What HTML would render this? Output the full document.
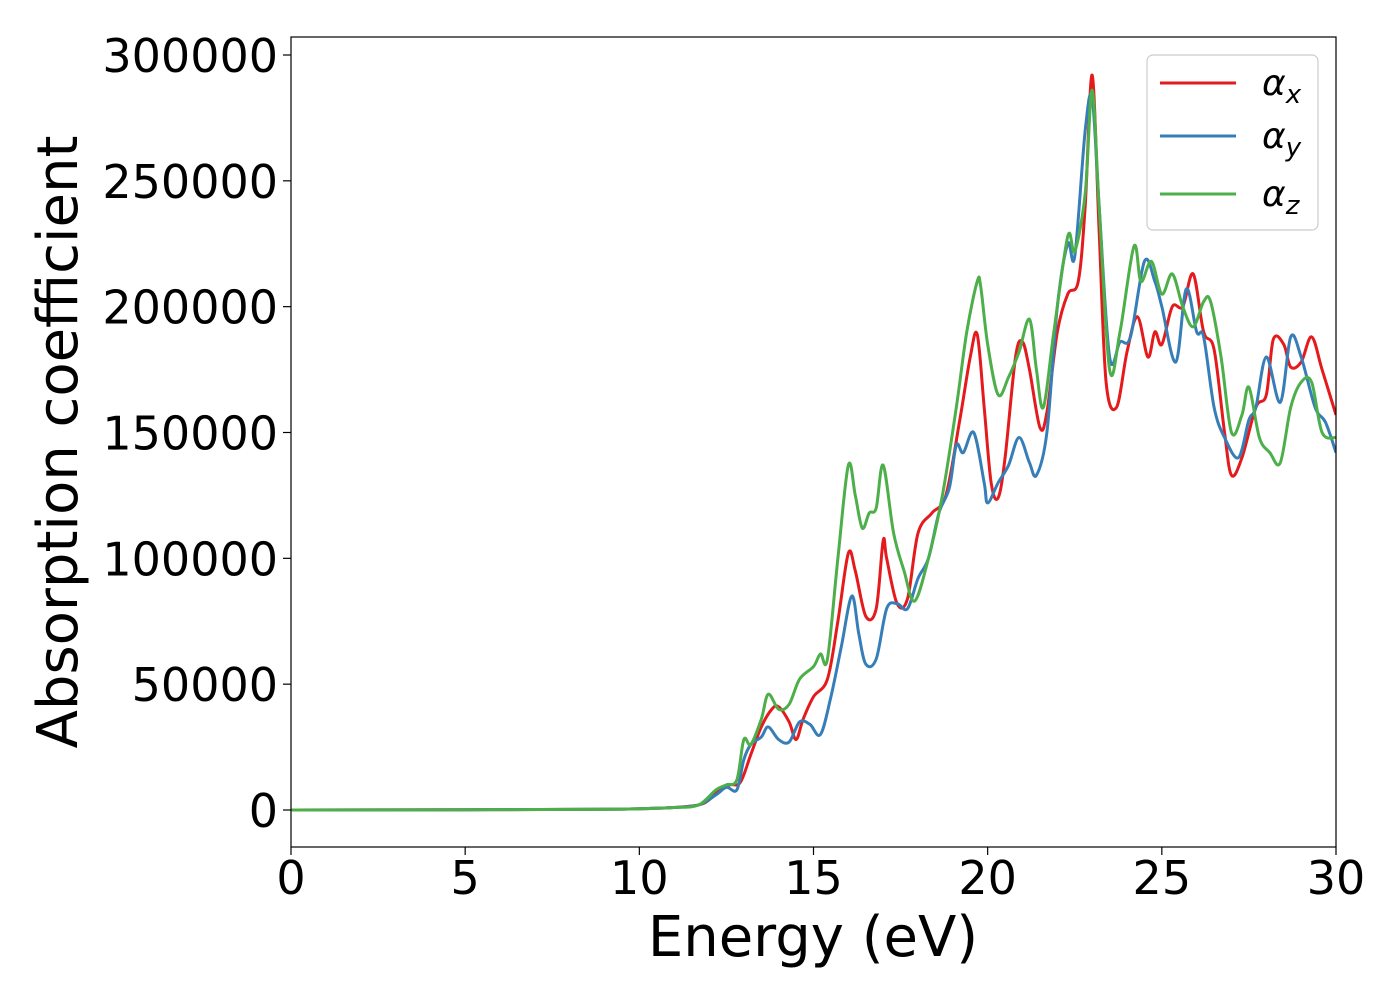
<!DOCTYPE html>
<html><head><meta charset="utf-8"><style>
body{margin:0;background:#fff}
svg{font-family:"DejaVu Sans","Liberation Sans",sans-serif}
</style></head><body>
<svg id="chart" width="1400" height="1000">
<defs><clipPath id="clip"><rect x="291" y="37" width="1045" height="810"/></clipPath></defs>
<rect x="0" y="0" width="1400" height="1000" fill="#fff"/>
<g id="series" clip-path="url(#clip)"></g>
<rect x="291" y="37" width="1045" height="810" fill="none" stroke="#000" stroke-width="1.2"/>
<g id="xticks"></g><g id="yticks"></g>
<text x="813" y="956" font-size="56" text-anchor="middle">Energy (eV)</text>
<text transform="translate(77,442) rotate(-90)" font-size="56" text-anchor="middle">Absorption coefficient</text>
<g>
<rect x="1147" y="55" width="171" height="175" rx="6" fill="#fff" fill-opacity="0.8" stroke="#ccc" stroke-width="1.2"/>
<g id="legend-items"></g>
</g>
</svg>
<script>
const xTicks=[0,5,10,15,20,25,30];
const yTicks=[0,50000,100000,150000,200000,250000,300000];
const seriesNames=["α_x","α_y","α_z"];
const seriesColors=["#e41a1c","#377eb8","#4daf4a"];
const ex=[0,5,9,10,11,11.7,12,12.3,12.6,12.9,13.2,13.5,13.8,14.0,14.3,14.5,14.7,15.0,15.4,15.7,16.0,16.2,16.5,16.8,17.0,17.1,17.4,17.7,18.0,18.4,18.8,19.2,19.5,19.7,19.9,20.1,20.3,20.5,20.8,21.0,21.2,21.5,21.7,22.0,22.3,22.6,22.8,23.0,23.2,23.4,23.7,24.0,24.3,24.6,24.8,25.0,25.3,25.6,25.9,26.2,26.5,26.8,27.0,27.3,27.7,28.0,28.2,28.5,28.7,29.0,29.3,29.6,30];
const vx=[0,0.1,0.3,0.5,1,2,4,8,10,11,22,33,40,41,35,28,36,45,52,75,102,95,77,80,107,100,82,84,110,118,125,155,180,189,160,130,124,140,180,186,175,152,158,190,205,210,240,292,230,170,160,182,196,180,190,185,200,200,213,190,183,150,133,140,160,165,187,185,176,178,188,175,157];
const ey=[0,5,9,10,11,11.7,12.2,12.5,12.8,13.0,13.2,13.5,13.7,14.0,14.3,14.6,14.9,15.2,15.5,15.8,16.1,16.3,16.5,16.8,17.1,17.4,17.7,18.0,18.3,18.6,18.9,19.1,19.3,19.6,19.9,20.0,20.3,20.6,20.9,21.2,21.4,21.7,22.0,22.3,22.5,22.8,23.0,23.2,23.5,23.8,24.1,24.5,24.8,25.0,25.4,25.7,26.0,26.2,26.5,26.8,27.2,27.5,27.7,28.0,28.4,28.7,29.0,29.4,29.7,30];
const vy=[0,0.1,0.3,0.5,1,2,6,9,8,20,26,29,33,28,27,35,34,30,45,65,85,70,58,60,80,82,80,92,100,118,128,145,142,150,130,122,130,137,148,138,133,150,200,225,220,270,283,240,180,186,188,218,210,200,178,207,190,188,160,148,140,155,160,180,162,188,180,160,154,142];
const ez=[0,5,9,10,11,11.7,12.2,12.5,12.8,13.0,13.2,13.5,13.7,14.0,14.3,14.6,15.0,15.2,15.4,15.7,16.0,16.2,16.4,16.6,16.8,17.0,17.3,17.6,17.9,18.3,18.7,19.1,19.4,19.7,19.8,20.0,20.3,20.6,20.9,21.2,21.4,21.6,21.9,22.3,22.5,22.8,23.0,23.2,23.5,23.8,24.2,24.4,24.7,25.0,25.3,25.6,25.9,26.2,26.4,26.7,27.0,27.3,27.5,27.8,28.1,28.4,28.7,29.0,29.3,29.6,30];
const vz=[0,0.1,0.3,0.5,1,2,8,10,12,28,26,36,46,40,42,52,57,62,60,100,137,125,112,118,120,137,110,95,83,100,125,160,190,210,208,185,165,172,182,195,175,160,190,228,222,245,286,240,175,190,224,210,218,205,213,200,192,202,202,180,150,157,168,148,142,138,160,170,170,150,148];
const X=e=>291+e*(1045/30);
const Y=v=>810-v*(755/300000);
const NS="http://www.w3.org/2000/svg";
function mk(t,a,p){const el=document.createElementNS(NS,t);for(const k in a)el.setAttribute(k,a[k]);p.appendChild(el);return el;}
function pathD(E,V){const p=E.map((e,i)=>[X(e),Y(V[i]*1000)]);let d="M"+p[0][0]+","+p[0][1];
for(let i=0;i<p.length-1;i++){const p0=p[Math.max(0,i-1)],p1=p[i],p2=p[i+1],p3=p[Math.min(p.length-1,i+2)];
const c1=[p1[0]+(p2[0]-p0[0])/6,p1[1]+(p2[1]-p0[1])/6],c2=[p2[0]-(p3[0]-p1[0])/6,p2[1]-(p3[1]-p1[1])/6];
d+=" C"+c1[0]+","+c1[1]+" "+c2[0]+","+c2[1]+" "+p2[0]+","+p2[1];}return d;}
const sg=document.getElementById("series");
const all=[[ex,vx],[ey,vy],[ez,vz]];
const ids=["alpha-x-line","alpha-y-line","alpha-z-line"];
all.forEach((s,i)=>{const el=mk("path",{d:pathD(s[0],s[1]),fill:"none",stroke:seriesColors[i],"stroke-width":3},sg);

});
const xt=document.getElementById("xticks");
xTicks.forEach(t=>{const l=mk("line",{x1:X(t),x2:X(t),y1:847,y2:855,stroke:"#000","stroke-width":1.2},xt);


const tx=mk("text",{x:X(t),y:894,"font-size":46,"text-anchor":"middle"},xt);tx.textContent=t;

});
const yt=document.getElementById("yticks");
yTicks.forEach(t=>{const l=mk("line",{x1:283,x2:291,y1:Y(t),y2:Y(t),stroke:"#000","stroke-width":1.2},yt);


const tx=mk("text",{x:278,y:Y(t)+17,"font-size":46,"text-anchor":"end"},yt);tx.textContent=t;

});
const lg=document.getElementById("legend-items");
const subs=["x","y","z"];const ly=[83,136,194];
subs.forEach((s,i)=>{const l=mk("line",{x1:1160,x2:1236,y1:ly[i],y2:ly[i],stroke:seriesColors[i],"stroke-width":3},lg);


const tx=mk("text",{x:1262,y:ly[i]+12,"font-size":36,"font-style":"italic"},lg);


tx.textContent="α";const ts=mk("tspan",{"font-size":26,dy:8},tx);ts.textContent=s;});
</script>
</body></html>
